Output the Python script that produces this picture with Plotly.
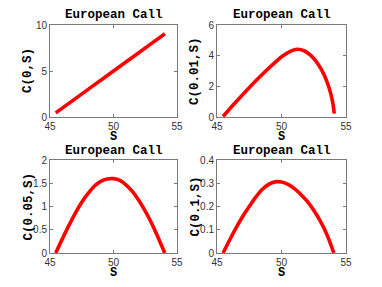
import plotly.graph_objects as go

# ---- data ----
s0 = [45.45, 47.0, 49.0, 51.0, 53.0, 54.05]
c0 = [0.45, 2.0, 4.0, 6.0, 8.0, 9.05]

s1 = [45.47, 46.3, 47.08, 47.86, 48.64, 49.42, 50.06, 50.71, 51.23, 51.75, 52.27, 52.79, 53.31, 53.70, 53.96, 54.09]
c1 = [0.03, 0.83, 1.54, 2.24, 2.89, 3.50, 3.96, 4.30, 4.42, 4.32, 4.02, 3.50, 2.74, 1.87, 1.00, 0.22]

s2 = [45.45, 46.0, 46.5, 47.0, 47.5, 48.0, 48.5, 49.0, 49.5, 50.0, 50.5, 51.0, 51.5, 52.0, 52.5, 53.0, 53.5, 54.04]
c2 = [0.0, 0.32, 0.60, 0.86, 1.09, 1.28, 1.44, 1.54, 1.59, 1.60, 1.56, 1.46, 1.32, 1.13, 0.90, 0.64, 0.34, 0.0]

s3 = [45.47, 46.0, 46.5, 47.0, 47.5, 48.0, 48.5, 49.0, 49.5, 50.0, 50.5, 51.0, 51.5, 52.0, 52.5, 53.0, 53.5, 54.06]
c3 = [0.0, 0.058, 0.11, 0.158, 0.20, 0.240, 0.273, 0.295, 0.306, 0.305, 0.295, 0.277, 0.252, 0.222, 0.184, 0.138, 0.082, 0.0]

xs = [s0, s1, s2, s3]
ys = [c0, c1, c2, c3]
ylabels = ["C(0,S)", "C(0.01,S)", "C(0.05,S)", "C(0.1,S)"]
yranges = [[0, 10], [0, 6], [0, 2], [0, 0.4]]
ydticks = [5, 2, 0.5, 0.1]
title_text = "European Call"
xlabel = "S"

OFF = 8  # page body margin
W, H = 382 - OFF, 287 - OFF
# target pixel boxes in the window: (left, right, top, bottom)
boxes_win = [(50, 177, 25, 117), (217, 346, 25, 117), (50, 177, 160, 253), (217, 346, 160, 253)]
boxes = [(l - OFF, r - OFF, t - OFF, b - OFF) for (l, r, t, b) in boxes_win]

fig = go.Figure()
annotations = []
mono = "Liberation Mono"
for i in range(4):
    l, r, t, b = boxes[i]
    xa = "x" if i == 0 else f"x{i+1}"
    ya = "y" if i == 0 else f"y{i+1}"
    fig.add_trace(go.Scatter(x=xs[i], y=ys[i], mode="lines",
                             line=dict(color="#ff0000", width=3.6, shape="spline", smoothing=1.0),
                             xaxis=xa, yaxis=ya, showlegend=False, hoverinfo="skip"))
    axcommon = dict(showgrid=False, zeroline=False, showline=True, linecolor="#7a7a7a", linewidth=1,
                    mirror="ticks", ticks="inside", ticklen=3, tickcolor="#7a7a7a", automargin=False,
                    tickfont=dict(family="Liberation Sans", size=10, color="#333333"))
    xkey = "xaxis" if i == 0 else f"xaxis{i+1}"
    ykey = "yaxis" if i == 0 else f"yaxis{i+1}"
    fig.update_layout(**{
        xkey: dict(domain=[l / W, r / W], anchor=ya, range=[45, 55], dtick=5, tick0=45, **axcommon),
        ykey: dict(domain=[1 - b / H, 1 - t / H], anchor=xa, range=yranges[i], dtick=ydticks[i], tick0=0, **axcommon),
    })
    cx = (l + r) / 2
    annotations.append(dict(text="<b>" + title_text + "</b>", x=cx / W, y=1 - (t - 9.5) / H, xref="paper", yref="paper",
                            showarrow=False, borderpad=0, font=dict(family=mono, size=12.5, color="black"),
                            xanchor="center", yanchor="middle"))
    annotations.append(dict(text="<b>" + xlabel + "</b>", x=cx / W, y=1 - (b + 20) / H, xref="paper", yref="paper",
                            showarrow=False, borderpad=0, font=dict(family=mono, size=12, color="black"),
                            xanchor="center", yanchor="middle"))
    annotations.append(dict(text="<b>" + ylabels[i] + "</b>", x=(l - 22) / W, y=1 - ((t + b) / 2) / H, xref="paper", yref="paper",
                            showarrow=False, borderpad=0, textangle=-90, font=dict(family=mono, size=12.5, color="black"),
                            xanchor="center", yanchor="middle"))

fig.update_layout(width=W, height=H, margin=dict(l=0, r=0, t=0, b=0, autoexpand=False),
                  paper_bgcolor="white", plot_bgcolor="white", annotations=annotations)
fig.write_html("out.html")
